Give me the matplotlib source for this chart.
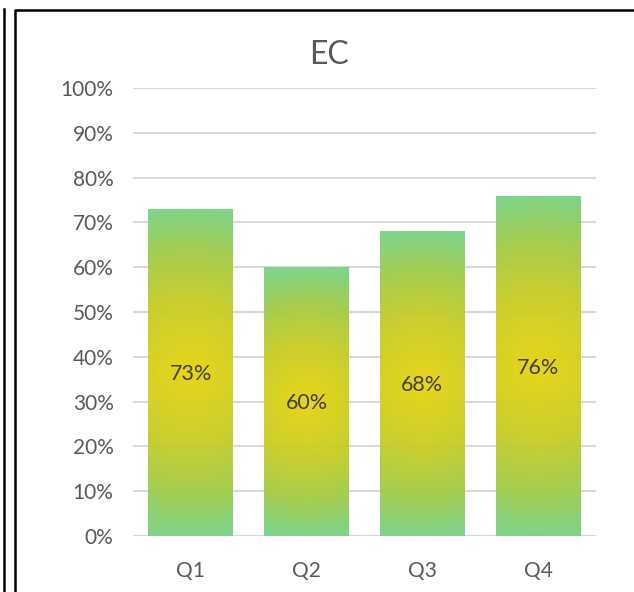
import numpy as np
import matplotlib
matplotlib.use("Agg")
import matplotlib.pyplot as plt
from matplotlib.colors import LinearSegmentedColormap, to_rgb
from matplotlib.lines import Line2D
from matplotlib.patches import Rectangle

# Chart data
title = "EC"
categories = ["Q1", "Q2", "Q3", "Q4"]
values = [0.73, 0.60, 0.68, 0.76]
y_ticks = [0.0, 0.1, 0.2, 0.3, 0.4, 0.5, 0.6, 0.7, 0.8, 0.9, 1.0]

W, H, DPI = 634, 592, 100
plt.rcParams["font.family"] = ["Lato", "DejaVu Sans"]

fig = plt.figure(figsize=(W / DPI, H / DPI), dpi=DPI)
fig.patch.set_facecolor("white")

# Plot area
left_px, right_px, top_px, bottom_px = 133, 596, 88, 536
ax = fig.add_axes([left_px / W, 1 - bottom_px / H,
                   (right_px - left_px) / W, (bottom_px - top_px) / H])
ax.set_xlim(-0.5, len(categories) - 0.5)
ax.set_ylim(0, 1)
for s in ax.spines.values():
    s.set_visible(False)
ax.set_yticks(y_ticks)
ax.set_yticklabels([f"{int(round(t * 100))}%" for t in y_ticks])
ax.set_xticks(range(len(categories)))
ax.set_xticklabels(categories)
ax.tick_params(axis="both", length=0, labelsize=15, colors="#595959")
ax.tick_params(axis="y", pad=14)
ax.tick_params(axis="x", pad=18)
ax.yaxis.grid(True, color="#d9d9d9", linewidth=1.5)
ax.set_axisbelow(True)

# Radial gradient: yellow core fading to green at the edges
cmap = LinearSegmentedColormap.from_list(
    "bar_grad",
    [(0.0, to_rgb("#e8d30c")), (0.45, to_rgb("#c6cd26")),
     (0.75, to_rgb("#a0cb48")), (1.0, to_rgb("#78d282"))])

bar_w = 0.734
px_per_x = (right_px - left_px) / (len(categories))
px_per_y = (bottom_px - top_px)
for i, v in enumerate(values):
    x0 = i - bar_w / 2
    wpx = bar_w * px_per_x
    hpx = v * px_per_y
    nx, ny = int(round(wpx)) * 2, int(round(hpx)) * 2
    xs = np.linspace(-wpx / 2, wpx / 2, nx)
    ys = np.linspace(-hpx / 2, hpx / 2, ny)
    X, Y = np.meshgrid(xs, ys)
    d = np.sqrt(X ** 2 + Y ** 2) / (hpx / 2)
    t = np.clip(d, 0, 1)
    img = ax.imshow(t, cmap=cmap, vmin=0, vmax=1, extent=(x0, x0 + bar_w, 0, v),
                    origin="lower", aspect="auto", interpolation="bilinear",
                    zorder=2, alpha=0.95)
    clip = Rectangle((x0, 0), bar_w, v, transform=ax.transData,
                     facecolor="none", edgecolor="none")
    ax.add_patch(clip)
    img.set_clip_path(clip)
    ax.text(i, v / 2 - 0.004, f"{int(round(v * 100))}%", ha="center", va="center",
            fontsize=15.5, color="#404040", zorder=3)

ax.set_xlim(-0.5, len(categories) - 0.5)
ax.set_ylim(0, 1)

# Title
fig.text(329 / W, 1 - 55 / H, title, ha="center",
         va="center", fontsize=23, color="#595959")

# Frame lines
lw = 1.8
fig.add_artist(Line2D([3.5 / W, 3.5 / W], [0, 1 - 9 / H], color="black",
                      linewidth=lw, transform=fig.transFigure))
fig.add_artist(Line2D([15 / W, 15 / W, 1.0], [0, 1 - 10 / H, 1 - 10 / H],
                      color="black", linewidth=lw, transform=fig.transFigure))

fig.savefig("out.png", dpi=DPI, facecolor="white")
